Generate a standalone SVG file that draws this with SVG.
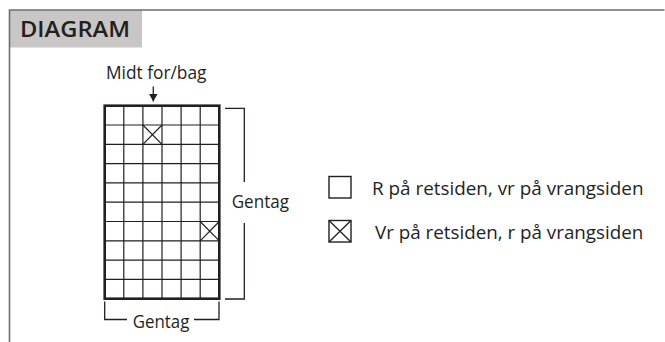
<svg xmlns="http://www.w3.org/2000/svg" width="665" height="342" viewBox="0 0 665 342">
<style>
text{font-family:"Open Sans","Liberation Sans",sans-serif;fill:#231f20}
.lbl{font-size:17.5px}
.leg{font-size:18.5px}
.frame{stroke:#6d6e71;stroke-width:1.6;fill:none}
.thin{stroke:#231f20;stroke-width:1.2;fill:none}
.outer{stroke:#231f20;stroke-width:2.6;fill:none}
.br{stroke:#231f20;stroke-width:1.3;fill:none}
</style>
<defs>
<marker id="ah" viewBox="0 0 8 9" refX="8" refY="4.5" markerWidth="8" markerHeight="9" markerUnits="userSpaceOnUse" orient="auto">
<path d="M0,0 L8,4.5 L0,9 z" fill="#231f20"/>
</marker>
</defs>
<g id="frame">
<rect x="9.5" y="10" width="132.5" height="37.5" fill="#c9c6c6"/>
<path class="frame" d="M9.5,342 V10 H664.5"/>
<text x="20" y="37" font-size="22" font-weight="600" textLength="110" lengthAdjust="spacingAndGlyphs">DIAGRAM</text>
</g>
<g id="chart">
<g class="thin">
<path d="M123.8,105.7V298.7M142.9,105.7V298.7M162,105.7V298.7M181.1,105.7V298.7M200.2,105.7V298.7"/>
<path d="M104.7,125H219.3M104.7,144.3H219.3M104.7,163.6H219.3M104.7,182.9H219.3M104.7,202.2H219.3M104.7,221.5H219.3M104.7,240.8H219.3M104.7,260.1H219.3M104.7,279.4H219.3"/>
<path d="M142.9,125L162,144.3M162,125L142.9,144.3"/>
<path d="M200.2,221.5L219.3,240.8M219.3,221.5L200.2,240.8"/>
</g>
<rect class="outer" x="104.7" y="105.7" width="114.6" height="193"/>
</g>
<g id="center-label">
<text class="lbl" x="106" y="79" textLength="100.5" lengthAdjust="spacingAndGlyphs">Midt for/bag</text>
</g>
<g id="repeat-right">
<text class="lbl" x="231.7" y="208.3" textLength="57.3" lengthAdjust="spacingAndGlyphs">Gentag</text>
</g>
<g id="repeat-bottom">
<text class="lbl" x="132.7" y="327.5" textLength="56.6" lengthAdjust="spacingAndGlyphs">Gentag</text>
</g>
<g id="legend-plain">
<rect x="329" y="176.5" width="22" height="21.5" fill="none" stroke="#231f20" stroke-width="1.4"/>
<text class="leg" x="372" y="195" textLength="271.5" lengthAdjust="spacingAndGlyphs">R på retsiden, vr på vrangsiden</text>
</g>
<g id="legend-cross">
<rect x="329" y="220.5" width="22" height="21.5" fill="none" stroke="#231f20" stroke-width="1.4"/>
<path d="M329,220.5L351,242M351,220.5L329,242" stroke="#231f20" stroke-width="1.3"/>
<text class="leg" x="375" y="239" textLength="268.3" lengthAdjust="spacingAndGlyphs">Vr på retsiden, r på vrangsiden</text>
</g>
<g id="connectors">
<path class="br" d="M153.3,86.5V101.5" marker-end="url(#ah)"/>
<path class="br" d="M225,108.3H244.3V182M244.3,223V299H225"/>
<path class="br" d="M104.7,301.5V319.5H127M194,319.5H219V301.5"/>
</g>
</svg>
